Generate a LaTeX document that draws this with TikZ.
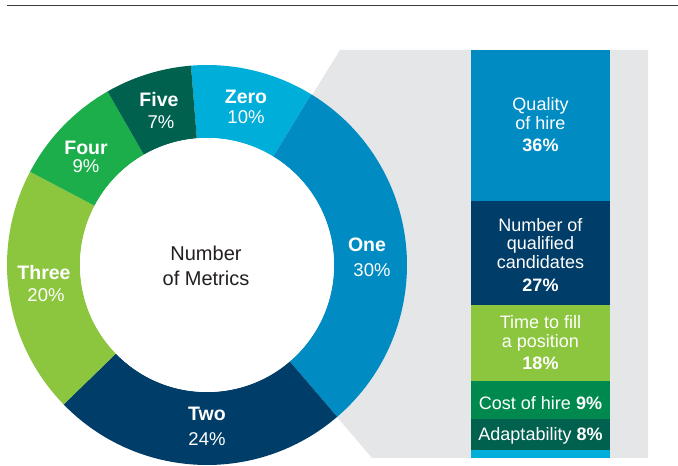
\documentclass[tikz,border=0pt]{standalone}
\usepackage{fontspec}
\setmainfont{Liberation Sans}
\definecolor{czero}{HTML}{00AEDA}
\definecolor{cone}{HTML}{008BC3}
\definecolor{ctwo}{HTML}{003D68}
\definecolor{cthree}{HTML}{8CC63F}
\definecolor{cfour}{HTML}{1BAE4B}
\definecolor{cfive}{HTML}{00614F}
\definecolor{ccost}{HTML}{00894F}
\definecolor{cpanel}{HTML}{E5E6E8}
\definecolor{cline}{HTML}{3C3C3C}
\definecolor{ctext}{HTML}{231F20}
\tikzset{
  lbl/.style={inner sep=0pt, anchor=base, text=white, font=\fontsize{19.5}{22}\selectfont\bfseries},
  pct/.style={inner sep=0pt, anchor=base, text=white, font=\fontsize{18.5}{22}\selectfont},
  bartxt/.style={inner sep=0pt, anchor=base, text=white, font=\fontsize{18}{21}\selectfont},
  ctr/.style={inner sep=0pt, anchor=base, text=ctext, font=\fontsize{20}{24}\selectfont}
}
\newcommand{\ringseg}[3]{%
  \fill[#3] ([shift={(#1:200pt)}]C) arc[start angle=#1, end angle=#2, radius=200pt]
    -- ([shift={(#2:127pt)}]C) arc[start angle=#2, end angle=#1, radius=127pt] -- cycle;}
\begin{document}
\begin{tikzpicture}[x=1pt,y=1pt]
\useasboundingbox (0,0) rectangle (678,466);
\coordinate (C) at (207,201);
% top rule
\coordinate (L1) at (7,460.7);
\coordinate (L2) at (678,460.7);
\draw[cline, line width=1.3pt] (L1) -- (L2);
% grey panel behind
\fill[cpanel] (C) -- (340,416) -- (648,416) -- (648,8) -- (372,8) -- cycle;
% donut
\ringseg{94.6}{58.6}{czero}
\ringseg{58.6}{-49.4}{cone}
\ringseg{-49.4}{-135.8}{ctwo}
\ringseg{-135.8}{-207.8}{cthree}
\ringseg{-207.8}{-240.2}{cfour}
\ringseg{-240.2}{-265.4}{cfive}
\fill[white] (C) circle[radius=127pt];
% bar
\fill[cone]   (471,416) rectangle (610,265);
\fill[ctwo]   (471,265) rectangle (610,161);
\fill[cthree] (471,161) rectangle (610,85);
\fill[ccost]  (471,85)  rectangle (610,47);
\fill[cfive]  (471,47)  rectangle (610,16);
\fill[czero]  (471,16)  rectangle (610,8);
% donut labels
\node[lbl] (five) at (159,359) {Five};
\node[pct] (fivep) at (161,337) {7\%};
\node[lbl] (zero) at (246,362) {Zero};
\node[pct] (zerop) at (246,342) {10\%};
\node[lbl] (four) at (86,311) {Four};
\node[pct] (fourp) at (86,293) {9\%};
\node[lbl] (three) at (44,186) {Three};
\node[pct] (threep) at (46,164) {20\%};
\node[lbl] (one) at (367,214) {One};
\node[pct] (onep) at (372,189) {30\%};
\node[lbl] (two) at (207,45) {Two};
\node[pct] (twop) at (207,20) {24\%};
\node[ctr] (num1) at (206,205) {Number};
\node[ctr] (num2) at (206,180) {of Metrics};
% bar labels
\node[bartxt] (q1) at (540.5,355) {Quality};
\node[bartxt] (q2) at (540.5,336) {of hire};
\node[bartxt] (q3) at (540.5,314) {\bfseries 36\%};
\node[bartxt] (n1) at (540.5,234) {Number of};
\node[bartxt] (n2) at (540.5,216) {qualified};
\node[bartxt] (n3) at (540.5,197) {candidates};
\node[bartxt] (n4) at (540.5,174) {\bfseries 27\%};
\node[bartxt] (t1) at (540.5,137) {Time to fill};
\node[bartxt] (t2) at (540.5,118) {a position};
\node[bartxt] (t3) at (540.5,96) {\bfseries 18\%};
\node[bartxt] (c1) at (540.5,56) {Cost of hire \bfseries 9\%};
\node[bartxt] (a1) at (540.5,25) {Adaptability \bfseries 8\%};
\end{tikzpicture}
\end{document}
